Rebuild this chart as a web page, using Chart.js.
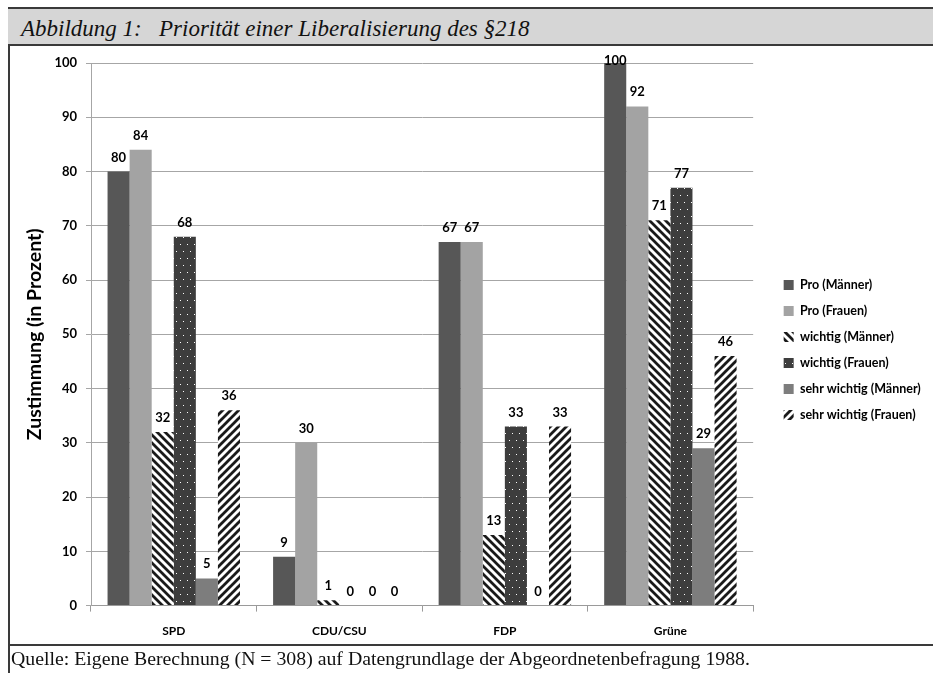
<!DOCTYPE html>
<html>
<head>
<meta charset="utf-8">
<script src="https://cdn.jsdelivr.net/npm/chart.js@4/dist/chart.umd.min.js"></script>
<style>
  html, body { margin: 0; padding: 0; background: #fff; width: 933px; height: 673px; overflow: hidden; }
  #frame { position: absolute; left: 8px; top: 7px; width: 930px; height: 670px; border-left: 2px solid #3a3a3a; }
  #titlebar { position: absolute; left: 8px; top: 7px; width: 930px; height: 35px; background: #d6d6d6;
    border-top: 2px solid #3a3a3a; border-bottom: 2px solid #3a3a3a; }
  #title { position: absolute; left: 13px; top: 7px; font-family: "Liberation Serif", serif; font-style: italic;
    font-size: 23px; white-space: pre; color: #111; }
  #footline { position: absolute; left: 8px; top: 644px; width: 930px; height: 2px; background: #3a3a3a; }
  #footer { position: absolute; left: 11px; top: 647px; font-family: "Liberation Serif", serif; font-size: 19.8px; color: #111; white-space: pre; }
  #wrap { position: absolute; left: 11px; top: 46px; width: 922px; height: 606px; }
</style>
</head>
<body>
<div id="frame"></div>
<div id="titlebar"><div id="title">Abbildung 1:   Priorität einer Liberalisierung des §218</div></div>
<div id="wrap"><canvas id="c"></canvas></div>
<div id="footline"></div>
<div id="footer">Quelle: Eigene Berechnung (N = 308) auf Datengrundlage der Abgeordnetenbefragung 1988.</div>
<script>
const categories = ["SPD", "CDU/CSU", "FDP", "Grüne"];
const seriesNames = ["Pro (Männer)", "Pro (Frauen)", "wichtig (Männer)", "wichtig (Frauen)", "sehr wichtig (Männer)", "sehr wichtig (Frauen)"];
const proMaenner = [80, 9, 67, 100];
const proFrauen = [84, 30, 67, 92];
const wichtigMaenner = [32, 1, 13, 71];
const wichtigFrauen = [68, 0, 33, 77];
const sehrWichtigMaenner = [5, 0, 0, 29];
const sehrWichtigFrauen = [36, 0, 33, 46];
const yTicks = [0, 10, 20, 30, 40, 50, 60, 70, 80, 90, 100];

function stripePattern(dir) {
  const s = 8;
  const cv = document.createElement('canvas');
  cv.width = s; cv.height = s;
  const g = cv.getContext('2d');
  g.fillStyle = '#ffffff'; g.fillRect(0, 0, s, s);
  g.strokeStyle = '#1a1a1a'; g.lineWidth = 2.8;
  g.beginPath();
  if (dir === 'back') {
    for (let k = -1; k <= 1; k++) { g.moveTo(k * s - 1, -1); g.lineTo(k * s + s + 1, s + 1); }
  } else {
    for (let k = -1; k <= 1; k++) { g.moveTo(k * s - 1, s + 1); g.lineTo(k * s + s + 1, -1); }
  }
  g.stroke();
  return g.createPattern(cv, 'repeat');
}
function dotPattern() {
  const w = 7, h = 14;
  const cv = document.createElement('canvas');
  cv.width = w; cv.height = h;
  const g = cv.getContext('2d');
  g.fillStyle = '#3d3d3d'; g.fillRect(0, 0, w, h);
  g.fillStyle = '#ffffff';
  g.fillRect(1, 2, 1, 1);
  g.fillRect(4, 9, 1, 1);
  return g.createPattern(cv, 'repeat');
}

const fills = ['#575757', '#a3a3a3', stripePattern('back'), dotPattern(), '#7d7d7d', stripePattern('fwd')];
const seriesData = [proMaenner, proFrauen, wichtigMaenner, wichtigFrauen, sehrWichtigMaenner, sehrWichtigFrauen];

const valueLabels = {
  id: 'valueLabels',
  afterDatasetsDraw(chart) {
    const ctx = chart.ctx;
    const top = chart.chartArea.top;
    ctx.save();
    ctx.font = 'bold 13px Lato';
    ctx.fillStyle = '#000';
    ctx.textAlign = 'center';
    ctx.textBaseline = 'alphabetic';
    chart.data.datasets.forEach((ds, i) => {
      const meta = chart.getDatasetMeta(i);
      meta.data.forEach((bar, j) => {
        const y = Math.max(bar.y - 10, top + 2);
        ctx.fillText(String(ds.data[j]), bar.x, y);
      });
    });
    ctx.restore();
  }
};

const FONT = 'Lato';
new Chart(document.getElementById('c'), {
  type: 'bar',
  data: {
    labels: categories,
    datasets: seriesNames.map((n, i) => ({
      label: n,
      data: seriesData[i],
      backgroundColor: fills[i],
      borderWidth: 0,
      categoryPercentage: 0.8,
      barPercentage: 1.0
    }))
  },
  options: {
    responsive: true,
    maintainAspectRatio: false,
    animation: false,
    layout: { padding: { left: 0, right: 11, top: 17, bottom: 15 } },
    plugins: {
      tooltip: { enabled: false },
      legend: {
        position: 'right',
        align: 'center',
        labels: {
          font: { family: FONT, size: 12.5, weight: 'bold' },
          color: '#000',
          boxWidth: 10,
          boxHeight: 10,
          padding: 13.5
        }
      }
    },
    scales: {
      x: {
        grid: { drawOnChartArea: false, drawTicks: true, tickLength: 6, color: '#9a9a9a', offset: true },
        border: { color: '#9a9a9a' },
        ticks: { font: { family: FONT, size: 12, weight: 'bold' }, color: '#000', padding: 12 },
        afterFit(scale) { scale.height = scale.height - 13; }
      },
      y: {
        min: 0, max: 100,
        afterBuildTicks(scale) { scale.ticks = yTicks.map(v => ({ value: v })); },
        afterFit(scale) { scale.width = 80; },
        grid: { color: '#a6a6a6', tickLength: 5 },
        border: { color: '#a6a6a6' },
        ticks: { font: { family: FONT, size: 13, weight: 'bold' }, color: '#000', padding: 9 },
        title: { display: true, text: 'Zustimmung (in Prozent)', font: { family: FONT, size: 19.5, weight: 'bold' }, color: '#000', padding: { top: 12, bottom: 3 } }
      },
      spacer: {
        position: 'right',
        display: true,
        grid: { display: false, drawTicks: false },
        border: { display: false },
        ticks: { display: false },
        afterFit(scale) { scale.width = 17; }
      }
    }
  },
  plugins: [valueLabels]
});
</script>
</body>
</html>
